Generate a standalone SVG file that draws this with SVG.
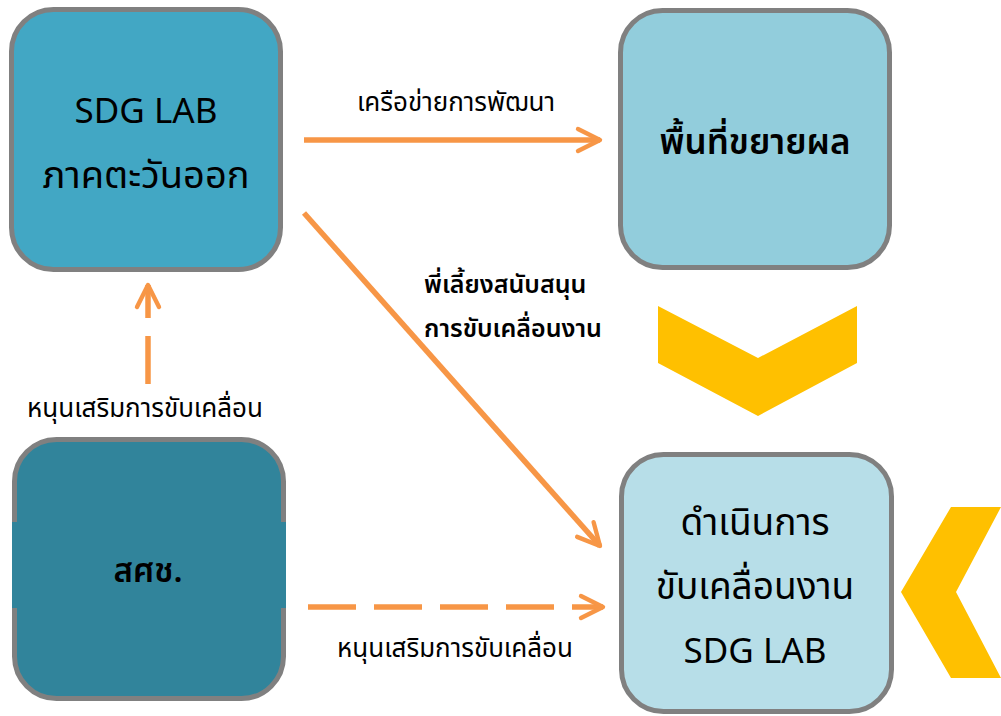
<svg xmlns="http://www.w3.org/2000/svg" width="1001" height="716" viewBox="0 0 1001 716">
<defs>
<style>
.box{stroke:#808080;stroke-width:5}
.t{font-family:"Noto Sans","Noto Sans Thai","DejaVu Sans",sans-serif;fill:#000;text-anchor:middle}
.en{font-size:35px}
.th{font-size:37px}
.lbl{font-size:26px}
.b{font-weight:600}
.conn{stroke:#F79646;stroke-width:5.5;fill:none;stroke-linecap:butt}
.dash{stroke-dasharray:48 18}
.chev{fill:#FFC000}
</style>
<marker id="ah" viewBox="0 0 10 10" refX="9" refY="5" markerWidth="5" markerHeight="5" markerUnits="strokeWidth" orient="auto">
<path d="M1,1 L9,5 L1,9" fill="none" stroke="#F79646" stroke-width="1.6" stroke-linecap="round" stroke-linejoin="round"/>
</marker>
</defs>
<rect width="1001" height="716" fill="#fff"/>

<g id="node-sdglab-east">
<rect class="box" x="11.5" y="9.5" width="269" height="260" rx="42" fill="#42A7C4"/>
<text class="t en" x="146" y="123">SDG LAB</text>
<text class="t th" x="146" y="188" style="font-size:38px">ภาคตะวันออก</text>
</g>

<g id="node-expansion">
<rect class="box" x="620.5" y="10.5" width="269" height="257" rx="42" fill="#92CDDC"/>
<text class="t b" x="755" y="154" style="font-size:35px">พื้นที่ขยายผล</text>
</g>

<g id="node-nesdc">
<rect class="box" x="14.5" y="439.5" width="269" height="259" rx="42" fill="#31849B"/>
<rect x="12" y="522" width="274" height="86" fill="#31849B"/>
<text class="t b" x="148" y="582" style="font-size:33px">สศช.</text>
</g>

<g id="node-operate">
<rect class="box" x="621.5" y="454.5" width="270" height="257" rx="42" fill="#B7DEE8"/>
<text class="t th" x="755" y="535">ดำเนินการ</text>
<text class="t th" x="755" y="599">ขับเคลื่อนงาน</text>
<text class="t en" x="755" y="663">SDG LAB</text>
</g>

<g id="chevrons">
<polygon class="chev" points="658,306 758,358 857,306 857,363 758,416 658,363"/>
<polygon class="chev" points="951,507 1001,507 956,592 1001,678 951,678 901,592"/>
</g>

<g id="connectors">
<line class="conn" x1="304" y1="140" x2="600" y2="140" marker-end="url(#ah)"/>
<line class="conn" x1="304" y1="213" x2="600" y2="546" marker-end="url(#ah)"/>
<line class="conn dash" x1="148" y1="384" x2="148" y2="285" marker-end="url(#ah)"/>
<line class="conn dash" x1="308" y1="607" x2="603" y2="607" marker-end="url(#ah)"/>
</g>

<g id="labels">
<text class="t lbl" x="456" y="111">เครือข่ายการพัฒนา</text>
<text class="t lbl b" x="424" y="293" style="text-anchor:start;font-size:25px">พี่เลี้ยงสนับสนุน</text>
<text class="t lbl b" x="424" y="337" style="text-anchor:start;font-size:25px">การขับเคลื่อนงาน</text>
<text class="t lbl" x="145" y="417">หนุนเสริมการขับเคลื่อน</text>
<text class="t lbl" x="455" y="657">หนุนเสริมการขับเคลื่อน</text>
</g>
</svg>
